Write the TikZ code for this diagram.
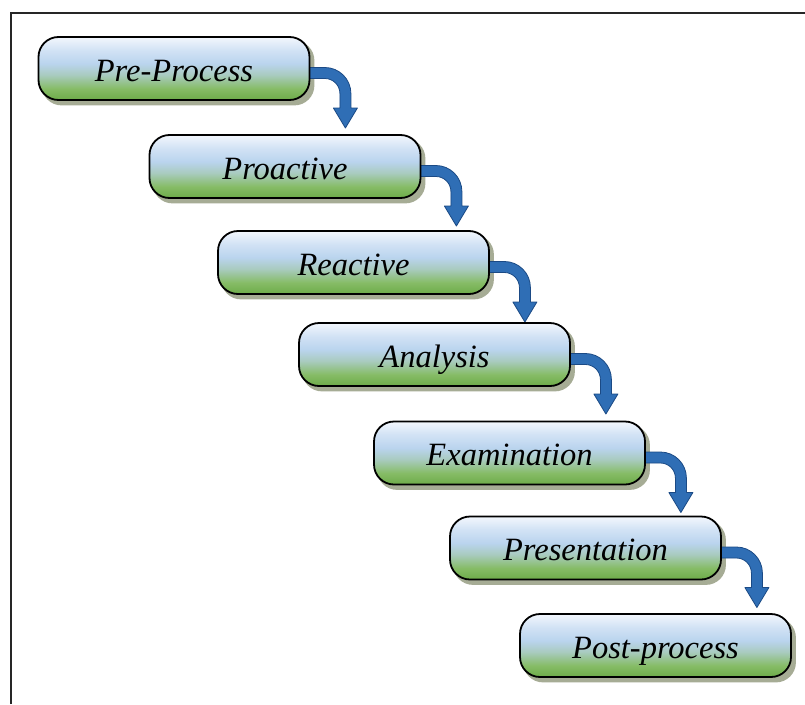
\documentclass[tikz,border=0pt]{standalone}
\usepackage{fontspec}
\setmainfont{Liberation Serif}[ItalicFont={Liberation Serif Italic}]
\usetikzlibrary{calc}
\definecolor{gA}{HTML}{6DAB49}
\definecolor{gB}{HTML}{86BC66}
\definecolor{midc}{HTML}{A9CBC0}
\definecolor{bA}{HTML}{BAD4EE}
\definecolor{bB}{HTML}{D3E3F5}
\definecolor{wA}{HTML}{F3F7FD}
\definecolor{shadowcol}{HTML}{A6AC95}
\definecolor{arrowblue}{HTML}{2F6EB5}
\definecolor{arrowdark}{HTML}{1B4A85}
\pgfdeclareverticalshading{boxshade}{100bp}{color(0bp)=(gA); color(25bp)=(gA); color(34bp)=(gB); color(45bp)=(midc); color(54bp)=(bA); color(65bp)=(bB); color(75bp)=(wA); color(100bp)=(wA)}
\pgfdeclarelayer{shadowlayer}
\pgfdeclarelayer{arrowlayer}
\pgfsetlayers{shadowlayer,arrowlayer,main}
\tikzset{
  stage/.style={draw=black, line width=1.8pt, rounded corners=20pt, shading=boxshade,
    minimum width=271pt, minimum height=63pt, inner sep=0pt,
    font=\fontsize{32.5}{37}\selectfont\itshape, text height=27.5pt, text depth=2pt},
  shadowbox/.style={fill=shadowcol, rounded corners=20pt},
  flowarrow/.style={fill=arrowblue, draw=arrowdark, line width=0.8pt, line join=round},
  framestyle/.style={draw=black!85, line width=2pt}
}
\newcommand\stagearrow[1]{%
  \begin{scope}[shift={(#1.east)}]
    \filldraw[flowarrow] (-6,-1) -- (14.5,-1) .. controls (28.85,-1) and (40.5,10.65) .. (40.5,25)
      -- (40.5,39.5) -- (47,39.5) -- (35,59.5) -- (23,39.5) -- (29.5,39.5) -- (29.5,25)
      .. controls (29.5,16.72) and (22.78,10) .. (14.5,10) -- (-6,10) -- cycle;
  \end{scope}}
\begin{document}
\begin{tikzpicture}[x=1pt,y=-1pt]
\useasboundingbox (0,0) rectangle (805,704);
\coordinate (fbl) at (10.5,704);
\coordinate (ftl) at (10.5,12.5);
\coordinate (ftr) at (805,12.5);
\draw[framestyle] (fbl) -- (ftl) -- (ftr);

\node[stage] (b1) at (174,68.5) {Pre-Process};
\node[stage] (b2) at (285,166.5) {Proactive};
\node[stage] (b3) at (353.5,262.5) {Reactive};
\node[stage] (b4) at (434.5,354.5) {Analysis};
\node[stage] (b5) at (509.5,453) {Examination};
\node[stage] (b6) at (585.5,548) {Presentation};
\node[stage] (b7) at (655.5,645.5) {Post-process};

\begin{pgfonlayer}{shadowlayer}
\fill[white] (0,0) rectangle (805,704);
\foreach \i in {1,...,7}
  \fill[shadowbox] ([shift={(4,4.5)}]b\i.north west) rectangle ([shift={(4,4.5)}]b\i.south east);
\end{pgfonlayer}

\begin{pgfonlayer}{arrowlayer}
\foreach \i in {1,...,6} {\stagearrow{b\i}}
\end{pgfonlayer}
\end{tikzpicture}
\end{document}
